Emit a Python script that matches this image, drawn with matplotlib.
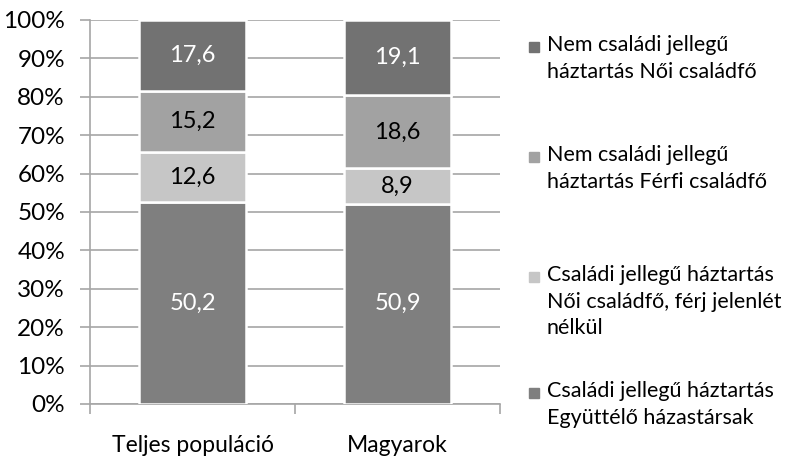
import numpy as np
import matplotlib.pyplot as plt
from matplotlib.patches import Rectangle

plt.rcParams['font.family'] = ['Lato', 'DejaVu Sans']

groups = ['Teljes populáció', 'Magyarok']
# bottom to top
series_names = ['Családi jellegű háztartás\nEgyüttélő házastársak',
                'Családi jellegű háztartás\nNői családfő, férj jelenlét\nnélkül',
                'Nem családi jellegű\nháztartás Férfi családfő',
                'Nem családi jellegű\nháztartás Női családfő']
egyutt = [50.2, 50.9]
noi_csaladfo = [12.6, 8.9]
nem_ferfi = [15.2, 18.6]
nem_noi = [17.6, 19.1]
series = [egyutt, noi_csaladfo, nem_ferfi, nem_noi]

colors = ['#7f7f7f', '#c6c6c6', '#a2a2a2', '#727272']
text_colors = ['white', 'black', 'black', 'white']
grid_col = '#a6a6a6'

data = np.array(series)
pct = data / data.sum(axis=0) * 100

fig = plt.figure(figsize=(7.95, 4.58), dpi=100)
ax = fig.add_axes([90/795, 1-404/458, 410/795, 384/458])

x = np.arange(len(groups))
bottom = np.zeros(len(groups))
for i in range(len(series)):
    ax.bar(x, pct[i], bottom=bottom, width=0.52, color=colors[i],
           edgecolor='white', linewidth=1.8, zorder=3)
    for j in range(len(groups)):
        ax.text(x[j], bottom[j] + pct[i][j]/2, f'{data[i][j]:.1f}'.replace('.', ','),
                ha='center', va='center', fontsize=17, color=text_colors[i], zorder=4)
    bottom += pct[i]

ax.set_xlim(-0.5, 1.5)
ax.set_ylim(0, 100)
ax.set_yticks(np.arange(0, 101, 10))
ax.set_yticklabels([f'{v}%' for v in range(0, 101, 10)], fontsize=17.5)
ax.set_xticks(x)
ax.set_xticklabels(groups, fontsize=16.5)
ax.set_xticks([-0.5, 0.5, 1.5], minor=True)
ax.tick_params(axis='x', which='major', length=0, pad=22)
ax.tick_params(axis='x', which='minor', length=7, color=grid_col, width=1.2)
ax.tick_params(axis='y', length=7, color=grid_col, width=1.2, pad=11)
ax.yaxis.grid(True, color=grid_col, linewidth=1.2, zorder=0)
for s in ['top', 'right']:
    ax.spines[s].set_visible(False)
for s in ['left', 'bottom']:
    ax.spines[s].set_color(grid_col)
    ax.spines[s].set_linewidth(1.2)

# legend, top entry first
leg_y = [47, 157, 277, 393]
for k, idx in enumerate([3, 2, 1, 0]):
    y = 1 - leg_y[k]/458
    fig.patches.append(Rectangle((529/795, y - 5/458), 10/795, 10/458,
                                 transform=fig.transFigure, color=colors[idx]))
    fig.text(547/795, y + 12/458, series_names[idx], fontsize=15.5, va='top',
             ha='left', linespacing=1.42)

fig.savefig('out.png', dpi=100)
